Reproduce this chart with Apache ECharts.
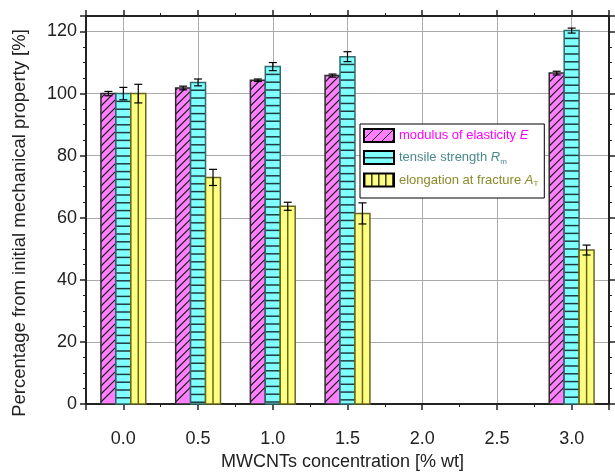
<!DOCTYPE html>
<html>
<head>
<meta charset="utf-8">
<script src="https://cdn.jsdelivr.net/npm/echarts@6/dist/echarts.min.js"></script>
<style>
	html, body { margin: 0; padding: 0; background: #fff; }
	#main { width: 615px; height: 476px; }
</style>
</head>
<body>
<div id="main"></div>
<script>
'use strict';

// MWCNTs concentration [% wt]
let concentrations = [0.0, 0.5, 1.0, 1.5, 3.0];

let modulusValues = [100.0, 101.8, 104.3, 105.8, 106.6];
let modulusErrors = [0.7, 0.6, 0.4, 0.5, 0.6];

let strengthValues = [100.0, 103.6, 108.7, 111.9, 120.3];
let strengthErrors = [2.0, 1.1, 1.3, 1.6, 0.8];

let elongationValues = [100.0, 73.0, 63.7, 61.4, 49.6];
let elongationErrors = [3.0, 2.6, 1.3, 3.4, 1.6];

let seriesNames = ['modulus of elasticity E', 'tensile strength Rm', 'elongation at fracture AT'];

let myChart = echarts.init(document.getElementById('main'));

const FONT = '"Liberation Sans", Arial, sans-serif';

function makePattern(kind, fill, line) {
	let cv = document.createElement('canvas');
	let ctx;
	if (kind === 'diag') {
		cv.width = 10; cv.height = 10;
		ctx = cv.getContext('2d');
		ctx.fillStyle = fill; ctx.fillRect(0, 0, 10, 10);
		ctx.strokeStyle = line; ctx.lineWidth = 1;
		ctx.beginPath();
		ctx.moveTo(-1, 11); ctx.lineTo(11, -1);
		ctx.moveTo(-1, 1); ctx.lineTo(1, -1);
		ctx.moveTo(9, 11); ctx.lineTo(11, 9);
		ctx.stroke();
	} else if (kind === 'horiz') {
		cv.width = 8; cv.height = 13;
		ctx = cv.getContext('2d');
		ctx.fillStyle = fill; ctx.fillRect(0, 0, 8, 13);
		ctx.fillStyle = line; ctx.fillRect(0, 6, 8, 1.5);
	} else {
		cv.width = 7; cv.height = 8;
		ctx = cv.getContext('2d');
		ctx.fillStyle = fill; ctx.fillRect(0, 0, 7, 8);
		ctx.fillStyle = line; ctx.fillRect(0, 0, 1.5, 8);
	}
	return { image: cv, repeat: 'repeat' };
}

let styles = [
	{ fill: '#ff80ff', border: '#2a2a2a', line: '#1a1a1a', kind: 'diag' },
	{ fill: '#80ffff', border: '#2f6b6b', line: '#1c3c3c', kind: 'horiz' },
	{ fill: '#ffff80', border: '#66661c', line: '#66661c', kind: 'vert' }
];

function seg(x1, y1, x2, y2, color, width) {
	return {
		type: 'line',
		shape: { x1: x1, y1: y1, x2: x2, y2: y2 },
		style: { stroke: color, lineWidth: width }
	};
}

function makeRender(k) {
	let st = styles[k];
	return function (params, api) {
		let x = api.value(0), v = api.value(1), e = api.value(2);
		let w = api.size([0.1, 0])[0];
		let top = api.coord([x, v]);
		let base = api.coord([x, 0]);
		let L = top[0] + (k - 1.5) * w, R = L + w;
		let T = top[1], B = base[1];
		let children = [{
			type: 'rect',
			shape: { x: L, y: T, width: w, height: B - T },
			style: { fill: st.fill }
		}];
		if (st.kind === 'diag') {
			// "/" hatching: lines x + y = c
			for (let c = L + B - 2; c > L + T; c -= 8) {
				let x1 = Math.max(L, c - B), x2 = Math.min(R, c - T);
				if (x2 > x1) {
					children.push(seg(x1, c - x1, x2, c - x2, st.line, 1.1));
				}
			}
		} else if (st.kind === 'horiz') {
			for (let y = T + 7.8; y < B - 1; y += 7.8) {
				children.push(seg(L, y, R, y, st.line, 1.5));
			}
		} else {
			let m = L + w / 2;
			children.push(seg(m, T, m, B, st.line, 1.5));
		}
		children.push({
			type: 'rect',
			shape: { x: L, y: T, width: w, height: B - T },
			style: { fill: null, stroke: st.border, lineWidth: 1.5 }
		});
		let cx = L + w / 2;
		let eTop = api.coord([x, v + e])[1], eBot = api.coord([x, v - e])[1];
		children.push(seg(cx, eTop, cx, eBot, '#000', 1.2));
		children.push(seg(cx - 4, eTop, cx + 4, eTop, '#000', 1.2));
		children.push(seg(cx - 4, eBot, cx + 4, eBot, '#000', 1.2));
		return { type: 'group', children: children };
	};
}

function buildData(values, errors) {
	return concentrations.map((c, i) => [c, values[i], errors[i]]);
}

let axisLine = { show: true, onZero: false, lineStyle: { color: '#222', width: 2 } };
let gridLine = { show: true, lineStyle: { color: '#aaa', width: 1 } };

let xCommon = {
	type: 'value',
	min: -0.25,
	max: 3.25,
	splitNumber: 7,
	axisLine: axisLine,
	axisTick: { show: true, inside: false, length: 6, lineStyle: { color: '#222', width: 1.5 } },
	minorTick: { show: true, splitNumber: 2, length: 3, lineStyle: { color: '#222', width: 1 } }
};

let yCommon = {
	type: 'value',
	min: 0,
	max: 125,
	interval: 20,
	axisLine: axisLine,
	axisTick: { show: true, inside: false, length: 6, lineStyle: { color: '#222', width: 1.5 } },
	minorTick: { show: true, splitNumber: 4, length: 3, lineStyle: { color: '#222', width: 1 } }
};

let legendRich = {
	a: { color: '#ff00ff', fontSize: 13, fontFamily: FONT },
	ai: { color: '#ff00ff', fontSize: 13, fontFamily: FONT, fontStyle: 'italic' },
	b: { color: '#4a8a8a', fontSize: 13, fontFamily: FONT },
	bi: { color: '#4a8a8a', fontSize: 13, fontFamily: FONT, fontStyle: 'italic' },
	bs: { color: '#4a8a8a', fontSize: 8, fontFamily: FONT, verticalAlign: 'bottom', padding: [8, 0, 0, 0] },
	c: { color: '#8a8a2a', fontSize: 13, fontFamily: FONT },
	ci: { color: '#8a8a2a', fontSize: 13, fontFamily: FONT, fontStyle: 'italic' },
	cs: { color: '#8a8a2a', fontSize: 8, fontFamily: FONT, verticalAlign: 'bottom', padding: [8, 0, 0, 0] }
};

let legendText = {};
legendText[seriesNames[0]] = '{a|modulus of elasticity }{ai|E}';
legendText[seriesNames[1]] = '{b|tensile strength }{bi|R}{bs|m}';
legendText[seriesNames[2]] = '{c|elongation at fracture }{ci|A}{cs|T}';

let option = {
	backgroundColor: '#fff',
	animation: false,
	grid: { left: 86, right: 6, top: 16, bottom: 70 },
	legend: {
		orient: 'vertical',
		left: 360,
		top: 124,
		padding: [4, 6, 10, 3],
		itemGap: 7,
		itemWidth: 30,
		itemHeight: 13,
		icon: 'rect',
		backgroundColor: '#fff',
		borderColor: '#000',
		borderWidth: 1,
		borderRadius: 0,
		selectedMode: false,
		data: seriesNames,
		formatter: name => legendText[name],
		textStyle: { fontFamily: FONT, fontSize: 13, rich: legendRich }
	},
	xAxis: [
		Object.assign({}, xCommon, {
			position: 'bottom',
			name: 'MWCNTs concentration [% wt]',
			nameLocation: 'middle',
			nameGap: 49,
			nameTextStyle: { fontFamily: FONT, fontSize: 18, color: '#222', padding: [0, 10, 0, 0] },
			axisLabel: {
				show: true, showMinLabel: false, showMaxLabel: false,
				fontFamily: FONT, fontSize: 18, color: '#222', margin: 26,
				formatter: v => v.toFixed(1)
			},
			splitLine: gridLine
		}),
		Object.assign({}, xCommon, {
			position: 'top',
			axisLabel: { show: false },
			splitLine: { show: false }
		})
	],
	yAxis: [
		Object.assign({}, yCommon, {
			position: 'left',
			name: 'Percentage from initial mechanical property [%]',
			nameLocation: 'middle',
			nameGap: 57,
			nameTextStyle: { fontFamily: FONT, fontSize: 18.5, color: '#222', padding: [0, 26, 0, 0] },
			axisLabel: {
				show: true, showMaxLabel: false,
				fontFamily: FONT, fontSize: 18, color: '#222', margin: 9
			},
			splitLine: gridLine
		}),
		Object.assign({}, yCommon, {
			position: 'right',
			axisLabel: { show: false },
			splitLine: { show: false }
		})
	],
	series: [
		{
			name: seriesNames[0],
			type: 'custom',
			xAxisIndex: 0, yAxisIndex: 0,
			itemStyle: { color: makePattern('diag', styles[0].fill, '#1a1a1a'), borderColor: '#000', borderWidth: 1.5 },
			renderItem: makeRender(0),
			data: buildData(modulusValues, modulusErrors)
		},
		{
			name: seriesNames[1],
			type: 'custom',
			xAxisIndex: 0, yAxisIndex: 0,
			itemStyle: { color: makePattern('horiz', styles[1].fill, '#1c3c3c'), borderColor: '#000', borderWidth: 1.5 },
			renderItem: makeRender(1),
			data: buildData(strengthValues, strengthErrors)
		},
		{
			name: seriesNames[2],
			type: 'custom',
			xAxisIndex: 0, yAxisIndex: 0,
			itemStyle: { color: makePattern('vert', styles[2].fill, '#333'), borderColor: '#000', borderWidth: 1.5 },
			renderItem: makeRender(2),
			data: buildData(elongationValues, elongationErrors)
		}
	]
};

myChart.setOption(option);
</script>
</body>
</html>
